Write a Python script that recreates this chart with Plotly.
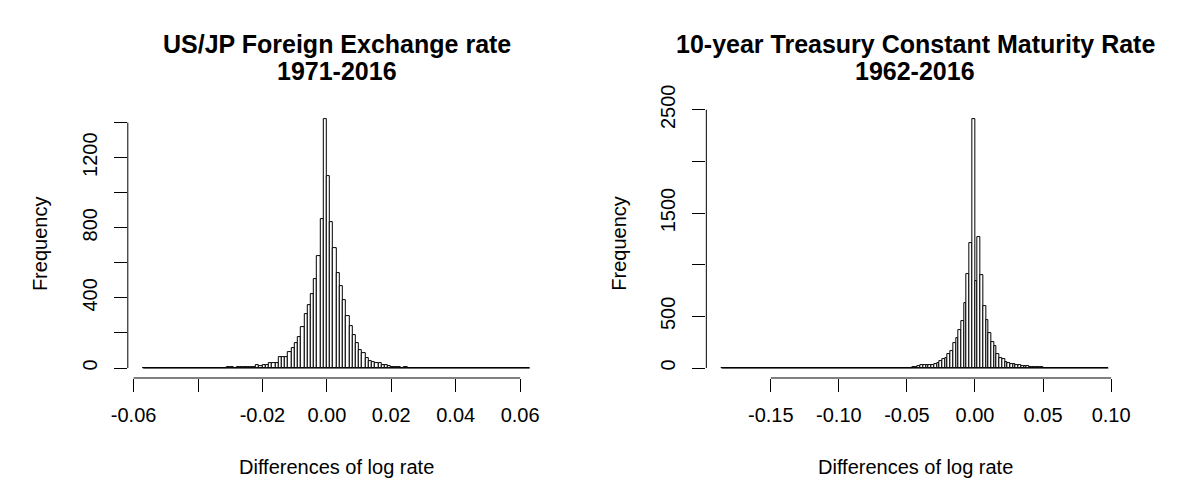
import plotly.graph_objects as go

# ---- data: histogram counts of daily differences of log rates ----
# US/JP exchange rate, 1971-2016: bins of width 0.001 starting at -0.057
fx_start = -0.057
fx_width = 0.001
fx_counts = [
    1,
    0, 0, 0, 0, 0, 0, 0, 0, 0, 0, 0, 0, 0, 0, 0, 0, 0, 0, 0, 0, 0, 0, 0, 0, 0,
    4, 4, 0, 4, 5, 4, 6, 6, 7, 17, 12, 16, 18, 28, 30, 29, 60, 61, 62, 90,
    112, 145, 176, 234, 308, 360, 423, 510, 638, 851, 1420,
    1096, 835, 685, 542, 467, 386, 294, 238, 188, 145, 105, 88, 54, 42, 35,
    30, 27, 18, 14, 13, 7, 6, 4, 0, 5,
    0, 0, 0, 0, 0, 0, 0, 0, 0, 0, 0, 0, 0, 0, 0, 0, 0, 0, 0, 0, 0, 0, 0, 0,
    0, 0, 0, 0, 0, 0, 0, 0, 0, 0, 0, 0, 0,
    1,
]
fx_xticks = [-0.06, -0.04, -0.02, 0.00, 0.02, 0.04, 0.06]
fx_xlabels = ["-0.06", "", "-0.02", "0.00", "0.02", "0.04", "0.06"]
fx_yticks = [0, 200, 400, 600, 800, 1000, 1200, 1400]
fx_ylabels = ["0", "", "400", "", "800", "", "1200", ""]

# 10-year Treasury constant maturity rate, 1962-2016: bins of width 0.002 from -0.186
tr_start = -0.186
tr_width = 0.002
tr_counts = [
    1,
    0, 0, 0, 0, 0, 0, 0, 0, 0, 0, 0, 0, 0, 0, 0, 0, 0, 0, 0, 0, 0, 0, 0, 0, 0,
    0, 0, 0, 0, 0, 0, 0, 0, 0, 0, 0, 0, 0, 0, 0, 0, 0, 0, 0, 0, 0, 0, 0, 0, 0,
    0, 0, 0, 0, 0, 0, 0, 0, 0, 0, 0, 0, 0,
    4, 0, 0, 0, 0, 0,
    6, 9, 15, 31, 25, 25, 28, 31, 37, 46, 70, 86, 92, 138, 168, 239, 291, 364,
    459, 627, 909, 1209, 2410,
    841, 1264, 903, 597, 465, 337, 254, 214, 138, 101, 83, 61, 49, 40, 37, 30,
    24, 18, 15, 20, 10, 8, 6, 6, 5, 4, 0, 0, 4,
    0, 0, 0, 0, 0, 0, 0, 0, 0, 0, 0, 0, 0, 0, 0, 0, 0, 0, 0,
    1,
]
tr_xticks = [-0.15, -0.10, -0.05, 0.00, 0.05, 0.10]
tr_xlabels = ["-0.15", "-0.10", "-0.05", "0.00", "0.05", "0.10"]
tr_yticks = [0, 500, 1000, 1500, 2000, 2500]
tr_ylabels = ["0", "500", "", "1500", "", "2500"]

titles = [
    ("US/JP Foreign Exchange rate", "1971-2016"),
    ("10-year Treasury Constant Maturity Rate", "1962-2016"),
]
x_title = "Differences of log rate"
y_title = "Frequency"

# ---- layout geometry (pixels) ----
W, H = 1183, 482
FONT = "Liberation Sans, Arial, sans-serif"
plot_px = [(113, 538.7), (703, 1128.8)]
top_px, bottom_px = 88.7, 372.3

panels = [
    (fx_start, fx_width, fx_counts, fx_xticks, fx_xlabels, fx_yticks, fx_ylabels),
    (tr_start, tr_width, tr_counts, tr_xticks, tr_xlabels, tr_yticks, tr_ylabels),
]

fig = go.Figure()
shapes = []
annotations = []

for i, (start, width, counts, xt, xl, yt, yl) in enumerate(panels):
    n = len(counts)
    edges = [start + width * j for j in range(n + 1)]
    centers = [start + width * (j + 0.5) for j in range(n)]
    xa = "x" if i == 0 else "x2"
    ya = "y" if i == 0 else "y2"
    xkey = "xaxis" if i == 0 else "xaxis2"
    ykey = "yaxis" if i == 0 else "yaxis2"

    fig.add_trace(go.Bar(
        x=centers, y=counts, width=width,
        marker=dict(color="white", line=dict(color="black", width=1)),
        xaxis=xa, yaxis=ya, showlegend=False, hoverinfo="x+y",
    ))

    span = edges[-1] - edges[0]
    xr = [edges[0] - 0.04 * span, edges[-1] + 0.04 * span]
    ymax = max(counts)
    yr = [-0.04 * ymax, 1.04 * ymax]
    x0, x1 = plot_px[i]

    axis_common = dict(
        showgrid=False, zeroline=False, showline=False,
        ticks="outside", ticklen=13, tickwidth=1, tickcolor="black",
        tickfont=dict(family=FONT, size=20, color="black"),
    )
    fig.update_layout({
        xkey: dict(
            domain=[x0 / W, x1 / W], range=xr, anchor=ya,
            tickvals=xt, ticktext=xl, ticklabelstandoff=6, **axis_common,
        ),
        ykey: dict(
            domain=[(H - bottom_px) / H, (H - top_px) / H], range=yr, anchor=xa,
            tickvals=yt, ticktext=yl, tickangle=-90, ticklabelstandoff=9,
            **axis_common,
        ),
    })

    xd = xa + " domain"
    yd = ya + " domain"
    # baseline under the full break range (empty bins too)
    shapes.append(dict(type="line", xref=xa, yref=ya, x0=edges[0], x1=edges[-1],
                       y0=0, y1=0, line=dict(color="black", width=1)))
    # axis lines spanning first to last tick
    shapes.append(dict(type="line", xref=xa, yref=yd, x0=xt[0], x1=xt[-1],
                       y0=0, y1=0, line=dict(color="black", width=1)))
    shapes.append(dict(type="line", xref=xd, yref=ya, x0=0, x1=0,
                       y0=yt[0], y1=yt[-1], line=dict(color="black", width=1)))

    cx = (x0 + x1) / 2 / W
    line1, line2 = titles[i]
    annotations.append(dict(text="<b>%s</b>" % line1, x=cx, y=1 - 20 / H,
                            xref="paper", yref="paper", showarrow=False,
                            xanchor="center", yanchor="middle",
                            font=dict(family=FONT, size=25, color="black")))
    annotations.append(dict(text="<b>%s</b>" % line2, x=cx, y=1 - 49 / H,
                            xref="paper", yref="paper", showarrow=False,
                            xanchor="center", yanchor="middle",
                            font=dict(family=FONT, size=25, color="black")))
    annotations.append(dict(text=x_title, x=cx, y=1 - 466 / H,
                            xref="paper", yref="paper", showarrow=False,
                            xanchor="center", yanchor="middle",
                            font=dict(family=FONT, size=20, color="black")))
    annotations.append(dict(text=y_title, x=(x0 - 90) / W,
                            y=1 - (top_px + bottom_px) / 2 / H,
                            xref="paper", yref="paper", showarrow=False,
                            textangle=-90, xanchor="center", yanchor="middle",
                            font=dict(family=FONT, size=20, color="black")))

fig.update_layout(
    width=W, height=H, autosize=False,
    margin=dict(l=0, r=0, t=0, b=0),
    paper_bgcolor="white", plot_bgcolor="white",
    bargap=0, shapes=shapes, annotations=annotations,
)

fig.write_html("out.html")
